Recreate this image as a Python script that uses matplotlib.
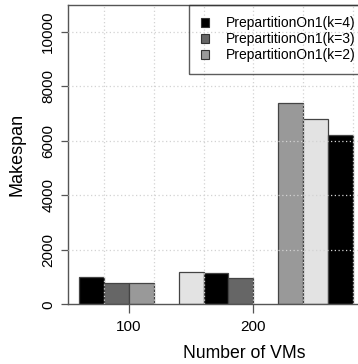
"""
Makespan vs number of VMs, R-style grouped bars (cropped on the right like the source).
"""
import matplotlib
matplotlib.use('Agg')
import matplotlib.pyplot as plt
from matplotlib.patches import Patch

plt.rcParams['font.family'] = ['Liberation Sans', 'DejaVu Sans']

# bar centres on the VM axis and their makespan values
bar_x = [70, 90, 110, 150, 170, 190, 230, 250, 270]
makespan = [990, 770, 770, 1175, 1160, 955, 7390, 6790, 6205]
# R recycles the 4-colour vector over all 9 bars
palette = ['#000000', '#666666', '#999999', '#e3e3e3']
bar_colors = [palette[i % len(palette)] for i in range(len(bar_x))]

legend_labels = ['PrepartitionOn1(k=4)', 'PrepartitionOn1(k=3)', 'PrepartitionOn1(k=2)']
legend_colors = ['#000000', '#666666', '#999999']

x_ticks = [100, 200]
y_ticks = [0, 2000, 4000, 6000, 8000, 10000]
grid_x = [80, 120, 160, 200, 240, 280, 320]
grid_y = [2000, 4000, 6000, 8000, 10000]

W, H = 358, 364
fig = plt.figure(figsize=(W / 100, H / 100), dpi=100)
left_px, right_px, top_px, bottom_px = 67.7, 420, 4.5, 304.3
ax = fig.add_axes([left_px / W, 1 - bottom_px / H,
                   (right_px - left_px) / W, (bottom_px - top_px) / H])

ax.bar(bar_x, makespan, width=20, color=bar_colors, edgecolor='#444444',
       linewidth=0.9, zorder=2)

for gx in grid_x:
    ax.axvline(gx, color='#d3d3d3', linestyle=(0, (1, 2)), linewidth=0.9, zorder=3)
for gy in grid_y:
    ax.axhline(gy, color='#d3d3d3', linestyle=(0, (1, 2)), linewidth=0.9, zorder=3)

ax.set_xlim(50.7, 100 + (right_px - 129) / 1.243)
ax.set_ylim(0, 11000)
ax.set_xticks(x_ticks)
ax.set_yticks(y_ticks)
ax.set_yticklabels([str(v) for v in y_ticks], rotation=90, va='center')
ax.tick_params(axis='x', length=6.5, width=0.9, color='#555555', labelsize=11, pad=5)
ax.tick_params(axis='y', length=5, width=0.9, color='#555555', labelsize=11, pad=4)

for side in ['left', 'top', 'bottom']:
    ax.spines[side].set_color('#555555')
    ax.spines[side].set_linewidth(1.0)
ax.spines['right'].set_visible(False)

ax.set_xlabel('Number of VMs', fontsize=12.7, labelpad=8)
ax.set_ylabel('Makespan', fontsize=13, labelpad=11)

handles = [Patch(facecolor=c, edgecolor='#333333', linewidth=0.8) for c in legend_colors]
leg = ax.legend(handles, legend_labels, loc='upper left',
                bbox_to_anchor=((189 - left_px) / (right_px - left_px), 1.0),
                borderaxespad=0, fontsize=10, handlelength=0.58, handleheight=0.58,
                handletextpad=1.2, labelspacing=0.15, borderpad=0.85,
                fancybox=False, edgecolor='#333333', facecolor='none')
leg.get_frame().set_linewidth(1.0)
leg.set_zorder(5)

fig.savefig('out.png', dpi=100)
